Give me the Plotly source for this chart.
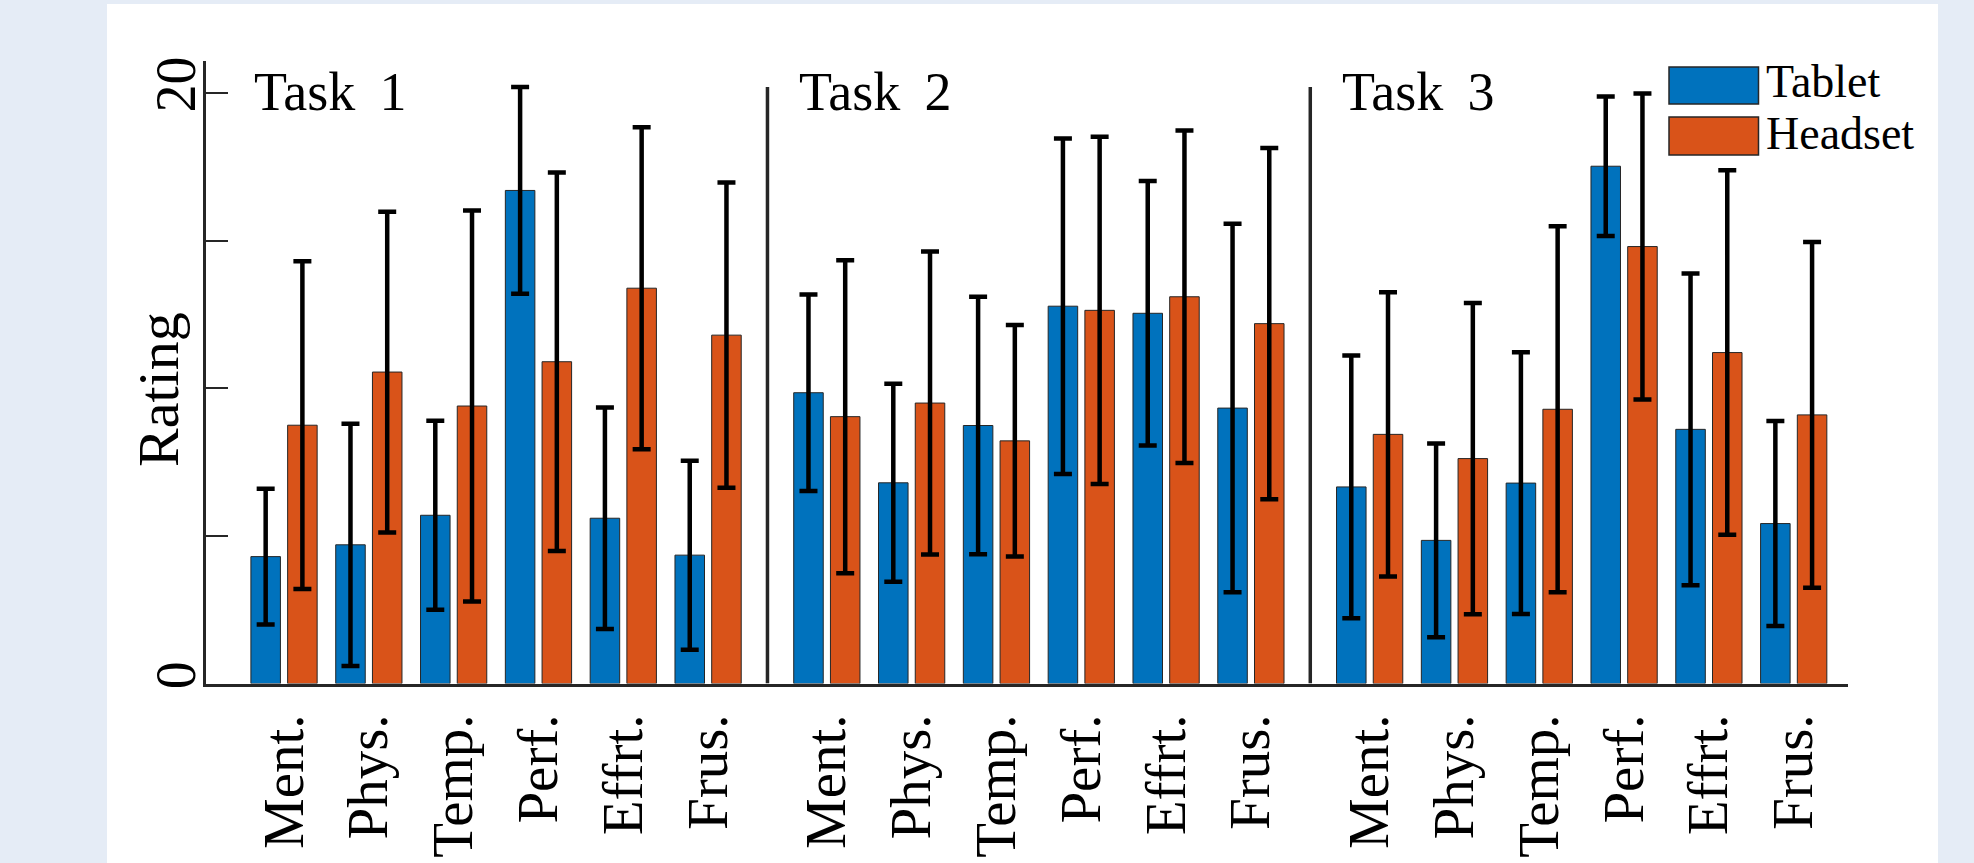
import plotly.graph_objects as go

# NASA-TLX style ratings per task and device
categories = ["Ment.", "Phys.", "Temp.", "Perf.", "Effrt.", "Frus."]
tasks = ["Task 1", "Task 2", "Task 3"]

tablet_mean = [
    [4.3, 4.7, 5.7, 16.7, 5.6, 4.35],
    [9.85, 6.8, 8.74, 12.78, 12.54, 9.33],
    [6.66, 4.85, 6.79, 17.52, 8.61, 5.42],
]
tablet_sd = [
    [2.3, 4.1, 3.2, 3.5, 3.75, 3.2],
    [3.33, 3.35, 4.36, 5.68, 4.48, 6.24],
    [4.45, 3.28, 4.43, 2.36, 5.28, 3.47],
]
headset_mean = [
    [8.75, 10.55, 9.4, 10.9, 13.39, 11.8],
    [9.04, 9.5, 8.22, 12.64, 13.1, 12.19],
    [8.44, 7.62, 9.29, 14.8, 11.21, 9.1],
]
headset_sd = [
    [5.55, 5.43, 6.62, 6.41, 5.45, 5.17],
    [5.3, 5.13, 3.92, 5.88, 5.63, 5.95],
    [4.81, 5.27, 6.2, 5.18, 6.17, 5.85],
]

BLUE = "#0072BD"
ORANGE = "#D95319"
DARK = "#262626"
FONT = "Liberation Serif"

# numeric x positions: six categories per task, with a wider gap between tasks
GROUP_GAP = 0.4
positions = []
for t in range(len(tasks)):
    for c in range(len(categories)):
        positions.append(t * (len(categories) + GROUP_GAP) + c + 1)


def flat(rows):
    return [v for r in rows for v in r]


fig = go.Figure()
fig.add_trace(go.Bar(
    x=positions, y=flat(tablet_mean), name="Tablet",
    marker=dict(color=BLUE, line=dict(color=DARK, width=1)),
    error_y=dict(type="data", array=flat(tablet_sd), color="black",
                 thickness=4.5, width=9),
))
fig.add_trace(go.Bar(
    x=positions, y=flat(headset_mean), name="Headset",
    marker=dict(color=ORANGE, line=dict(color=DARK, width=1)),
    error_y=dict(type="data", array=flat(headset_sd), color="black",
                 thickness=4.5, width=9),
))

# page geometry (pixels) -> paper fractions
W, H = 1974, 863
ML, MR, MT, MB = 107, 36, 4, 0
PW, PH = W - ML - MR, H - MT - MB


def px_x(px):
    return (px - ML) / PW


def px_y(py):
    return (H - MB - py) / PH


shapes = [
    # white figure panel
    dict(type="rect", xref="paper", yref="paper", x0=0, x1=1, y0=0, y1=1,
         fillcolor="white", line=dict(width=0), layer="below"),
]

# vertical separators between tasks
n = len(categories)
for t in range(1, len(tasks)):
    xs = (positions[t * n - 1] + positions[t * n]) / 2
    shapes.append(dict(type="line", xref="x", yref="y", x0=xs, x1=xs,
                       y0=0, y1=20.2, line=dict(color=DARK, width=3.5)))

# legend boxes
shapes.append(dict(type="rect", xref="paper", yref="paper",
                   x0=px_x(1669), x1=px_x(1758.5), y0=px_y(104), y1=px_y(67),
                   fillcolor=BLUE, line=dict(color=DARK, width=1.5)))
shapes.append(dict(type="rect", xref="paper", yref="paper",
                   x0=px_x(1669), x1=px_x(1758.5), y0=px_y(155), y1=px_y(117),
                   fillcolor=ORANGE, line=dict(color=DARK, width=1.5)))

annotations = []
task_left = [252, 797, 1340]
for name, xl in zip(tasks, task_left):
    annotations.append(dict(text=name.replace(" ", "\u2009 "), xref="paper", yref="paper",
                            x=px_x(xl), y=px_y(92), xanchor="left", yanchor="middle",
                            showarrow=False, font=dict(family=FONT, size=54, color="black")))
for name, yc in [("Tablet", 82), ("Headset", 134)]:
    annotations.append(dict(text=name, xref="paper", yref="paper",
                            x=px_x(1764), y=px_y(yc), xanchor="left", yanchor="middle",
                            showarrow=False, font=dict(family=FONT, size=46, color="black")))
annotations.append(dict(text="Rating", xref="paper", yref="paper",
                        x=px_x(158), y=px_y(390), xanchor="center", yanchor="middle",
                        textangle=-90, showarrow=False,
                        font=dict(family=FONT, size=58, color="black")))

fig.update_layout(
    width=W, height=H,
    margin=dict(l=ML, r=MR, t=MT, b=MB, autoexpand=False),
    paper_bgcolor="#E5ECF6",
    plot_bgcolor="white",
    barmode="group",
    bargap=0.134,
    bargroupgap=0.196,
    showlegend=False,
    shapes=shapes,
    annotations=annotations,
    font=dict(family=FONT, color="black"),
    xaxis=dict(
        domain=[px_x(206), px_x(1848)],
        range=[0.08, 19.44],
        tickmode="array", tickvals=positions,
        ticktext=categories * len(tasks),
        tickangle=-90, ticks="", ticklabelstandoff=5,
        tickfont=dict(family=FONT, size=57, color="black"),
        showline=True, linecolor=DARK, linewidth=3,
        showgrid=False, zeroline=False, automargin=False,
    ),
    yaxis=dict(
        domain=[px_y(683.6), px_y(61.4)],
        range=[0, 21.07],
        tickmode="array", tickvals=[0, 5, 10, 15, 20],
        ticktext=["0", "", "", "", "20"],
        tickangle=-90, ticks="inside", ticklen=22, tickwidth=2, tickcolor=DARK,
        ticklabelstandoff=-14,
        tickfont=dict(family=FONT, size=56, color="black"),
        showline=True, linecolor=DARK, linewidth=2.5,
        showgrid=False, zeroline=False, automargin=False,
    ),
)

fig.write_html("out.html")
